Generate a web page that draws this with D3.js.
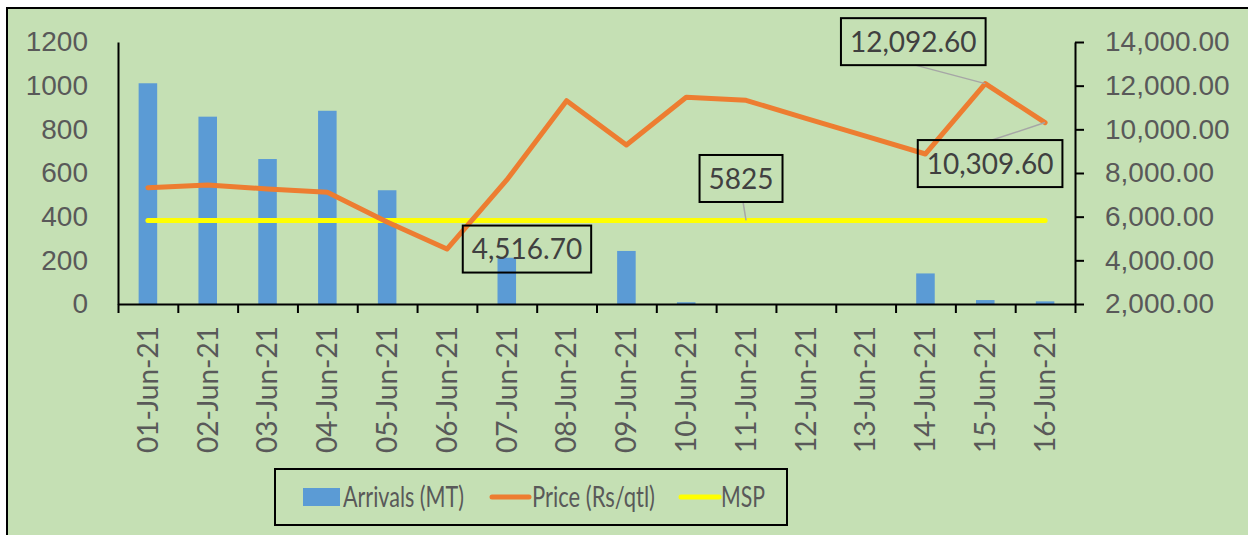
<!DOCTYPE html>
<html>
<head>
<meta charset="utf-8">
<script src="https://cdn.jsdelivr.net/npm/d3@7"></script>
<style>
  html, body { margin: 0; padding: 0; background: #fff; }
  svg { display: block; font-family: Lato, 'Open Sans', sans-serif; }
  .tick text { fill: #595959; font-size: 28px; }
  .data-label { fill: #404040; font-size: 28px; }
  .legend-text { fill: #595959; font-size: 28px; }
</style>
</head>
<body>
<svg id="chart" width="1248" height="535"></svg>
<script>
const dates = ['01-Jun-21', '02-Jun-21', '03-Jun-21', '04-Jun-21', '05-Jun-21', '06-Jun-21',
  '07-Jun-21', '08-Jun-21', '09-Jun-21', '10-Jun-21', '11-Jun-21', '12-Jun-21',
  '13-Jun-21', '14-Jun-21', '15-Jun-21', '16-Jun-21']
const arrivals = [1011, 858, 664, 885, 521, 0, 212, 0, 243, 8, 0, 0, 0, 140, 18, 12]
const price = [7327, 7451, 7268, 7120, 5760, 4516.7, 7680, 11313, 9284, 11468, 11330,
  10500, 9690, 8871, 12092.6, 10309.6]
const msp = dates.map(() => 5825)
const leftTicks = [0, 200, 400, 600, 800, 1000, 1200]
const rightTicks = [2000, 4000, 6000, 8000, 10000, 12000, 14000]
const seriesNames = ['Arrivals (MT)', 'Price (Rs/qtl)', 'MSP']

const svg = d3.select('#chart')

// chart area with border
svg.append('rect')
  .attr('x', 7).attr('y', 8)
  .attr('width', 1260).attr('height', 540)
  .attr('fill', '#C5E0B4')
  .attr('stroke', '#000')
  .attr('stroke-width', 2)

const plot = { left: 118, right: 1075, top: 42, bottom: 304 }

const x = d3.scaleBand().domain(dates).range([plot.left, plot.right])
const bw = x.bandwidth()
const xMid = d => x(d) + bw / 2
const xEdge = d3.scaleLinear().domain([0, dates.length]).range([plot.left, plot.right])

const yLeft = d3.scaleLinear().domain([0, 1200]).range([plot.bottom, plot.top])
const yRight = d3.scaleLinear().domain([2000, 14000]).range([plot.bottom, plot.top])

// bars
svg.append('g').selectAll('rect')
  .data(dates)
  .join('rect')
  .attr('x', d => x(d) + bw * 0.345)
  .attr('width', bw * 0.31)
  .attr('y', (d, i) => yLeft(arrivals[i]))
  .attr('height', (d, i) => plot.bottom - yLeft(arrivals[i]))
  .attr('fill', '#5B9BD5')

// left axis
const leftG = svg.append('g')
  .attr('transform', `translate(${plot.left},0)`)
  .call(d3.axisLeft(yLeft).tickValues(leftTicks).tickSize(0).tickPadding(30).tickFormat(d3.format('d')))
leftG.select('.domain').attr('stroke', '#000').attr('stroke-width', 2)

// right axis
const rightG = svg.append('g')
  .attr('transform', `translate(${plot.right},0)`)
  .call(d3.axisRight(yRight).tickValues(rightTicks).tickSize(9).tickSizeOuter(0)
    .tickPadding(21).tickFormat(d3.format(',.2f')))
rightG.select('.domain').attr('stroke', '#000').attr('stroke-width', 2)
rightG.selectAll('.tick line').attr('stroke', '#000').attr('stroke-width', 2)

// bottom axis: ticks at category boundaries
const bottomG = svg.append('g')
  .attr('transform', `translate(0,${plot.bottom})`)
  .call(d3.axisBottom(xEdge).tickValues(d3.range(dates.length + 1)).tickSize(9)
    .tickSizeOuter(0).tickFormat(''))
bottomG.select('.domain').attr('stroke', '#000').attr('stroke-width', 2)
bottomG.selectAll('.tick line').attr('stroke', '#000').attr('stroke-width', 2)

svg.append('g').selectAll('text')
  .data(dates)
  .join('text')
  .attr('class', 'tick-label')
  .attr('transform', d => `translate(${xMid(d)},${plot.bottom + 22}) rotate(-90)`)
  .attr('text-anchor', 'end')
  .attr('dy', '0.35em')
  .attr('fill', '#595959')
  .style('font-size', '28px')
  .text(d => d)

// lines
const priceLine = d3.line()
  .x((d, i) => xMid(dates[i]))
  .y(d => yRight(d))

svg.append('path')
  .datum(msp)
  .attr('d', priceLine)
  .attr('fill', 'none')
  .attr('stroke', '#FFFF00')
  .attr('stroke-width', 5)
  .attr('stroke-linecap', 'round')

svg.append('path')
  .datum(price)
  .attr('d', priceLine)
  .attr('fill', 'none')
  .attr('stroke', '#ED7D31')
  .attr('stroke-width', 5)
  .attr('stroke-linecap', 'round')
  .attr('stroke-linejoin', 'round')

// data labels: index, value, offset of box centre from point, leader anchor
const callouts = [
  { i: 5, v: price[5], text: d3.format(',.2f')(price[5]), dx: 80, dy: 0, leader: null },
  { i: 14, v: price[14], text: d3.format(',.2f')(price[14]), dx: -72, dy: -42, leader: 'bottom' },
  { i: 15, v: price[15], text: d3.format(',.2f')(price[15]), dx: -55, dy: 41, leader: 'top' },
  { i: 10, v: msp[10], text: String(msp[10]), dx: -5, dy: -42, leader: 'bottom' },
]

const labelG = svg.append('g')
callouts.forEach(c => {
  const px = xMid(dates[c.i])
  const py = yRight(c.v)
  const cx = px + c.dx
  const cy = py + c.dy
  const g = labelG.append('g')
  const t = g.append('text')
    .attr('class', 'data-label')
    .attr('x', cx).attr('y', cy)
    .attr('text-anchor', 'middle')
    .attr('dy', '0.36em')
    .text(c.text)
  const w = t.node().getComputedTextLength() + 18
  const h = 47
  if (c.leader) {
    const ly = c.leader === 'bottom' ? cy + h / 2 : cy - h / 2
    g.insert('line', 'text')
      .attr('x1', cx + 2).attr('y1', ly)
      .attr('x2', px).attr('y2', py)
      .attr('stroke', '#A6A6A6').attr('stroke-width', 1.5)
  }
  g.insert('rect', 'text')
    .attr('x', cx - w / 2).attr('y', cy - h / 2)
    .attr('width', w).attr('height', h)
    .attr('fill', 'none')
    .attr('stroke', '#000').attr('stroke-width', 2)
})

// legend
const legend = svg.append('g')
legend.append('rect')
  .attr('x', 275).attr('y', 469)
  .attr('width', 512).attr('height', 56)
  .attr('fill', 'none')
  .attr('stroke', '#000').attr('stroke-width', 2)

legend.append('rect')
  .attr('x', 303).attr('y', 488).attr('width', 37).attr('height', 18)
  .attr('fill', '#5B9BD5')
legend.append('line')
  .attr('x1', 492).attr('x2', 529).attr('y1', 497).attr('y2', 497)
  .attr('stroke', '#ED7D31').attr('stroke-width', 5).attr('stroke-linecap', 'round')
legend.append('line')
  .attr('x1', 681).attr('x2', 719).attr('y1', 497).attr('y2', 497)
  .attr('stroke', '#FFFF00').attr('stroke-width', 5).attr('stroke-linecap', 'round')

const legendPos = [{ x: 343, w: 121 }, { x: 532, w: 123 }, { x: 721, w: 44 }]
legend.selectAll('text.legend-text')
  .data(seriesNames)
  .join('text')
  .attr('class', 'legend-text')
  .attr('x', (d, i) => legendPos[i].x)
  .attr('y', 497)
  .attr('dy', '0.36em')
  .attr('textLength', (d, i) => legendPos[i].w)
  .attr('lengthAdjust', 'spacingAndGlyphs')
  .text(d => d)
</script>
</body>
</html>
